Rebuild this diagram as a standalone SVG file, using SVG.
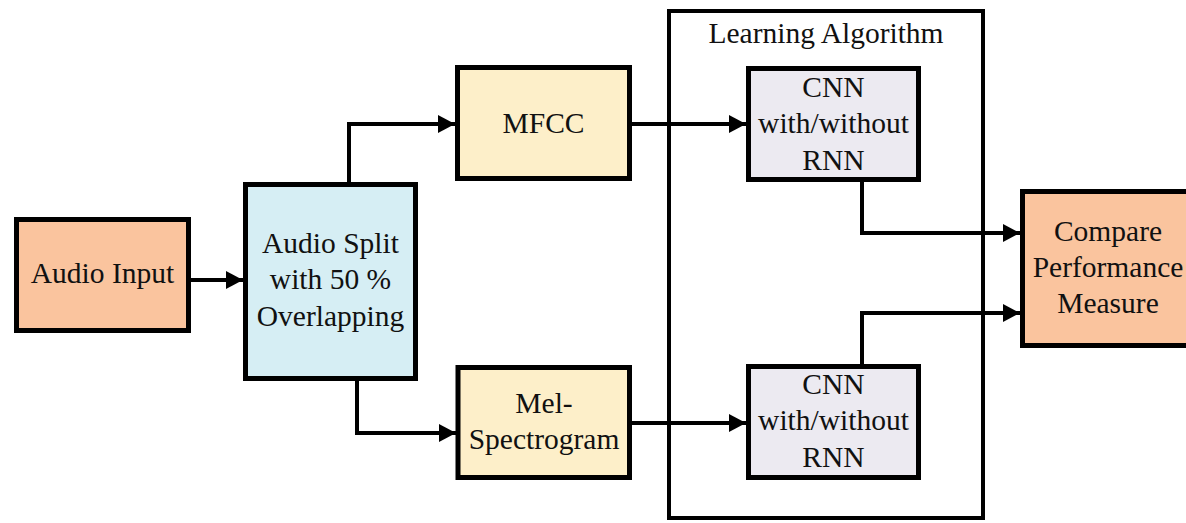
<svg xmlns="http://www.w3.org/2000/svg" width="1186" height="523" viewBox="0 0 1186 523">
  <style>
    .box { stroke: #000; stroke-width: 5; stroke-linejoin: miter; }
    .frame { fill: none; stroke: #000; stroke-width: 4; }
    .peach { fill: #FAC49E; }
    .blue { fill: #D6EEF4; }
    .cream { fill: #FDEFC9; }
    .lav { fill: #ECEAF1; }
    .lbl { font-family: 'Liberation Serif', 'Times New Roman', Tinos, 'DejaVu Serif', serif; font-size: 29.5px; fill: #111; text-anchor: middle; }
    .wire { fill: none; stroke: #000; stroke-width: 4; marker-end: url(#arrow); }
  </style>
  <defs>
    <marker id="arrow" markerUnits="userSpaceOnUse" markerWidth="20" markerHeight="20" refX="17" refY="9" orient="auto">
      <path d="M0,0 L17,9 L0,18 Z" fill="#000"/>
    </marker>
  </defs>
  <rect width="1186" height="523" fill="#fff"/>

  <!-- outer frame around the learning stage -->
  <g id="learning-algorithm">
    <rect class="frame" x="669" y="11" width="314" height="507"/>
    <text class="lbl" x="826" y="43" font-family="Liberation Serif, serif">Learning Algorithm</text>
  </g>

  <g id="connectors">
    <path class="wire" d="M191 280 H243"/>
    <path class="wire" d="M349 182 V124 H455"/>
    <path class="wire" d="M357 381 V433 H456"/>
    <path class="wire" d="M632 124 H746"/>
    <path class="wire" d="M632 423 H746"/>
    <path class="wire" d="M862 182 V233 H1020"/>
    <path class="wire" d="M862 364 V313 H1020"/>
  </g>

  <g id="audio-input">
    <rect class="box peach" x="16.5" y="219.5" width="172" height="111"/>
    <text class="lbl" x="102.5" y="283">Audio Input</text>
  </g>

  <g id="audio-split">
    <rect class="box blue" x="245.5" y="184.5" width="170" height="194"/>
    <text class="lbl" x="330.5" y="253">Audio Split</text>
    <text class="lbl" x="330.5" y="289">with 50 %</text>
    <text class="lbl" x="330.5" y="326">Overlapping</text>
  </g>

  <g id="mfcc">
    <rect class="box cream" x="457.5" y="67.5" width="172" height="111"/>
    <text class="lbl" x="543.5" y="133">MFCC</text>
  </g>

  <g id="mel-spectrogram">
    <rect class="box cream" x="458" y="367.5" width="171.5" height="110"/>
    <text class="lbl" x="544" y="413">Mel-</text>
    <text class="lbl" x="544" y="449">Spectrogram</text>
  </g>

  <g id="cnn-top">
    <rect class="box lav" x="748.5" y="68.5" width="170" height="111"/>
    <text class="lbl" x="833.5" y="97">CNN</text>
    <text class="lbl" x="833.5" y="133">with/without</text>
    <text class="lbl" x="833.5" y="170">RNN</text>
  </g>

  <g id="cnn-bottom">
    <rect class="box lav" x="748.5" y="366.5" width="170" height="111"/>
    <text class="lbl" x="833.5" y="394">CNN</text>
    <text class="lbl" x="833.5" y="430">with/without</text>
    <text class="lbl" x="833.5" y="467">RNN</text>
  </g>

  <g id="compare">
    <rect class="box peach" x="1022.5" y="191.5" width="200" height="154"/>
    <text class="lbl" x="1108" y="241">Compare</text>
    <text class="lbl" x="1108" y="277">Performance</text>
    <text class="lbl" x="1108" y="313">Measure</text>
  </g>
</svg>
